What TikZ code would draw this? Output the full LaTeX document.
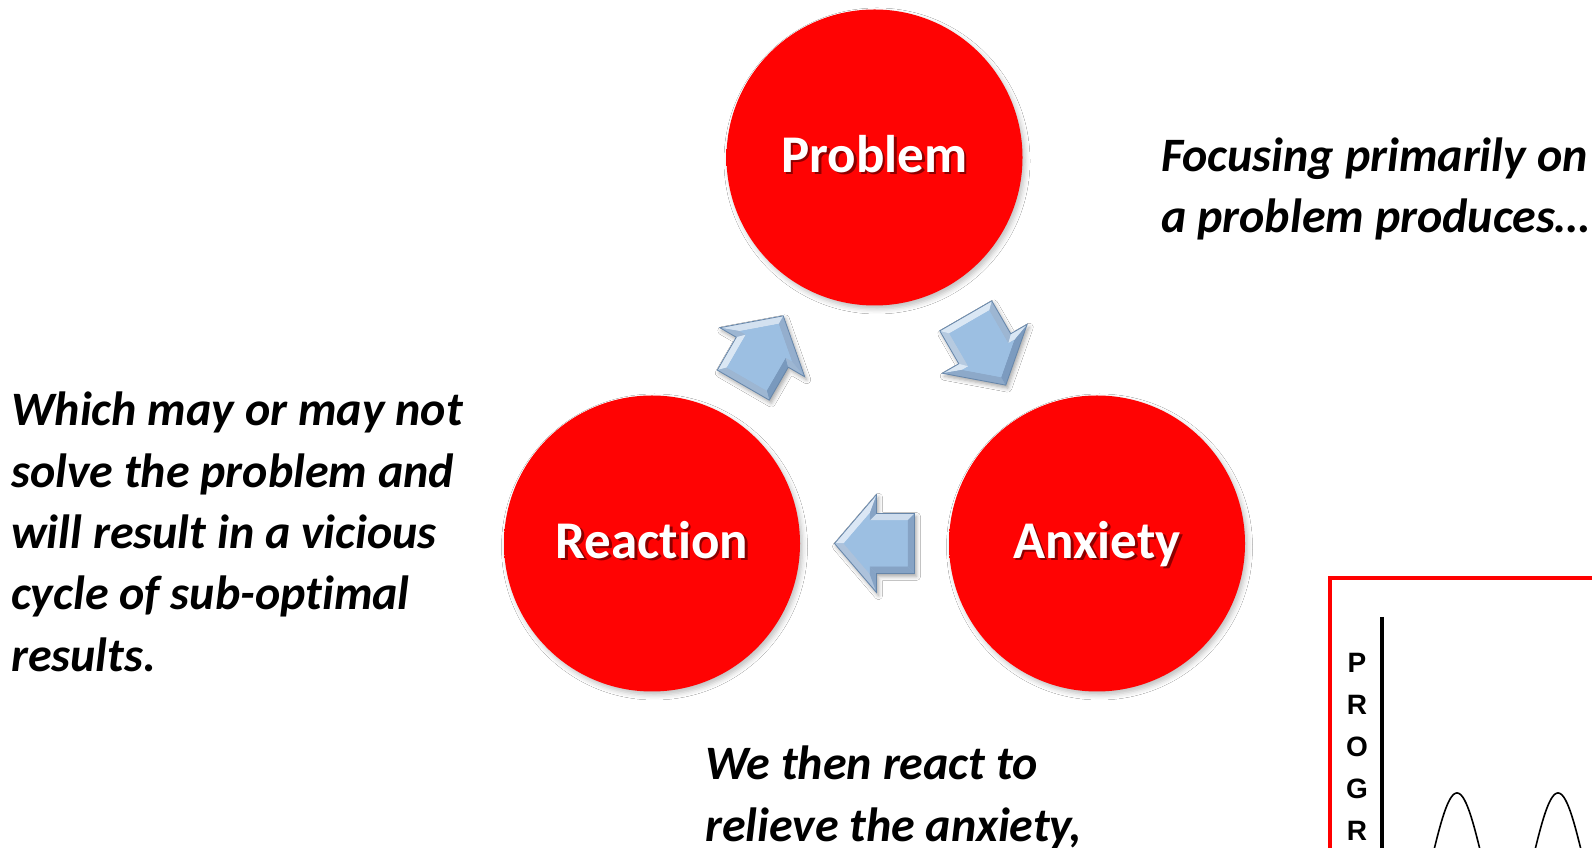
\documentclass[tikz,border=0pt]{standalone}
\usepackage{fontspec}
\setmainfont{Carlito}[Ligatures=NoCommon]
\newfontfamily\chartfont{Liberation Sans}
\usetikzlibrary{calc,shadows.blur}

\definecolor{ballA}{HTML}{FF0303}
\definecolor{ballB}{HTML}{EC0000}
\definecolor{ballC}{HTML}{B00000}
\definecolor{txtshadow}{HTML}{8C0000}
\definecolor{arrowface}{HTML}{9CBFE2}
\definecolor{bevlight}{HTML}{DCE8F5}
\definecolor{bevdark}{HTML}{7898BD}
\definecolor{arrowline}{HTML}{6686AA}

% flat red disc with a slightly darker rim
\pgfdeclareradialshading{ballshade}{\pgfpoint{0bp}{0bp}}{%
  color(0bp)=(ballA); color(40bp)=(ballA); color(47bp)=(ballB); color(50bp)=(ballC)}

% white label with a dark offset copy underneath
\newcommand\glowtext[1]{\leavevmode\rlap{\kern2.5pt\raisebox{-2.5pt}{\textcolor{txtshadow}{#1}}}#1}

\tikzset{
  ball/.style={circle, minimum size=296pt, inner sep=0pt, shading=ballshade,
    text=white, font=\bfseries\fontsize{53}{60}\selectfont,
    text height=30pt, text depth=0pt,
    blur shadow={shadow xshift=2.5pt, shadow yshift=-3.5pt, shadow blur radius=5pt, shadow opacity=25}},
  note/.style={inner sep=0pt, align=left, anchor=base west,
    font=\bfseries\itshape\fontsize{48}{61.3}\selectfont},
  axislabel/.style={inner sep=0pt, anchor=base, font=\chartfont\bfseries\fontsize{28}{30}\selectfont},
  % bevelled block arrow pointing along +x; #1 is its rotation, used for the lighting
  pics/cyclearrow/.style={code={
    \path[fill=arrowface, blur shadow={shadow xshift=2pt, shadow yshift=-3pt, shadow blur radius=4pt, shadow opacity=35}]
      (-40,-30) -- (-2,-30) -- (-2,-49) -- (40,0) -- (-2,49) -- (-2,30) -- (-40,30) -- cycle;
    \foreach \ax/\ay/\bx/\by/\cx/\cy/\dx/\dy/\nrm in {
      -40/-30/-2/-30/5/-23/-33/-23/-90,
      -2/-30/-2/-49/5/-30.07/5/-23/180,
      -2/-49/40/0/30.77/0/5/-30.07/-40.6,
      40/0/-2/49/5/30.07/30.77/0/40.6,
      -2/49/-2/30/5/23/5/30.07/180,
      -2/30/-40/30/-33/23/5/23/90,
      -40/30/-40/-30/-33/-23/-33/23/180}
    {
      \pgfmathtruncatemacro\lit{50+50*cos(#1+\nrm-135)}
      \fill[bevlight!\lit!bevdark] (\ax,\ay) -- (\bx,\by) -- (\cx,\cy) -- (\dx,\dy) -- cycle;
    }
    \fill[arrowface] (-33,-23) -- (5,-23) -- (5,-30.07) -- (30.77,0) -- (5,30.07) -- (5,23) -- (-33,23) -- cycle;
    \draw[arrowline, line width=0.8pt, line join=miter]
      (-40,-30) -- (-2,-30) -- (-2,-49) -- (40,0) -- (-2,49) -- (-2,30) -- (-40,30) -- cycle;
  }},
}

\begin{document}
\begin{tikzpicture}[x=1pt, y=1pt]
\useasboundingbox (0,0) rectangle (1592,848);
\clip (0,0) rectangle (1592,848);
\fill[white] (0,0) rectangle (1592,848);

% the three stages of the cycle
\node[ball] (problem)  at (874.5,690.5) {\glowtext{Problem}};
\node[ball] (reaction) at (652,304.5)   {\glowtext{Reaction}};
\node[ball] (anxiety)  at (1097,304.5)  {\glowtext{Anxiety}};

% arrows between the stages
\pic[rotate=60]  (up)   at ($(reaction)!.5!(problem)$) {cyclearrow=60};
\pic[rotate=-60] (down) at ($(problem)!.5!(anxiety)$)  {cyclearrow=-60};
\pic[rotate=180] (back) at ($(anxiety)!.5!(reaction)$) {cyclearrow=180};

% commentary (each node sits on the baseline of its last line)
\node[note] (focus) at (1161,615)
  {Focusing primarily on\\a problem produces\ldots};
\node[note] (react) at (705,6.7)
  {We then react to\\relieve the anxiety,};
\node[note] (which) at (11,176.8)
  {Which may or may not\\solve the problem and\\will result in a vicious\\cycle of sub-optimal\\results.};

% progress chart
\draw[red, line width=4pt] (1330,270) rectangle (1700,-60);
\draw[line width=3.5pt] (1382,231) -- (1382,-60);
\node[axislabel] (lp)  at (1357,175) {P};
\node[axislabel] (lr)  at (1357,133) {R};
\node[axislabel] (lo)  at (1357,91)  {O};
\node[axislabel] (lg)  at (1357,49)  {G};
\node[axislabel] (lr2) at (1357,7)   {R};
% one cycle of the wave every 101pt
\draw[line width=1.6pt, domain=1392:1600, samples=240]
  plot (\x, {-11+66*cos(3.5644*(\x-1457))});
\end{tikzpicture}
\end{document}
